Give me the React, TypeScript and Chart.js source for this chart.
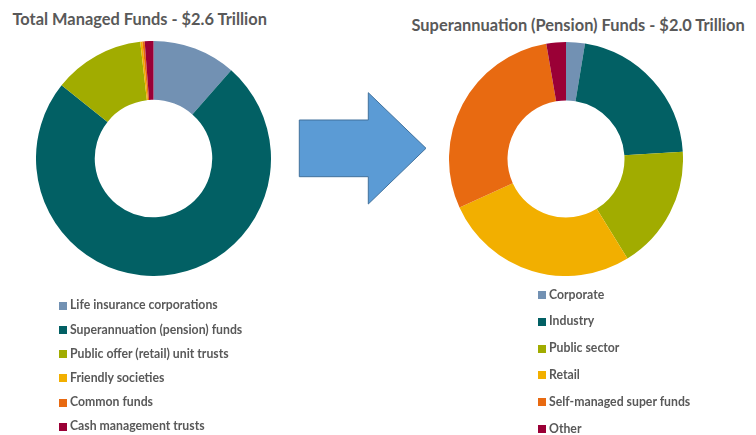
import React, { useEffect, useRef } from "react";
import { Chart, registerables } from "chart.js";

Chart.register(...registerables);

// ---- data ----
const leftTitle = "Total Managed Funds - $2.6 Trillion";
const leftLabels = [
  "Life insurance corporations",
  "Superannuation (pension) funds",
  "Public offer (retail) unit trusts",
  "Friendly societies",
  "Common funds",
  "Cash management trusts",
];
const leftValues = [11.5, 74.2, 12.5, 0.3, 0.3, 1.2];

const rightTitle = "Superannuation (Pension) Funds - $2.0 Trillion";
const rightLabels = [
  "Corporate",
  "Industry",
  "Public sector",
  "Retail",
  "Self-managed super funds",
  "Other",
];
const rightValues = [2.6, 21.4, 17.2, 27.0, 29.1, 2.7];

const palette = ["#7291B3", "#026064", "#A1AC00", "#F2AF00", "#E86A11", "#9A0036"];

const FONT = "Lato, 'Open Sans', sans-serif";
const TEXT = "#595959";

type DonutProps = {
  labels: string[];
  values: number[];
  colors: string[];
  cx: number;
  cy: number;
  r: number;
};

function Donut({ labels, values, colors, cx, cy, r }: DonutProps) {
  const ref = useRef<HTMLCanvasElement>(null);
  const size = Math.round(r * 2);
  useEffect(() => {
    const chart = new Chart(ref.current!, {
      type: "doughnut",
      data: {
        labels,
        datasets: [{ data: values, backgroundColor: colors, borderWidth: 0 }],
      },
      options: {
        responsive: false,
        animation: false,
        cutout: "50%",
        layout: { padding: 0 },
        plugins: { legend: { display: false }, tooltip: { enabled: false }, title: { display: false } },
      },
    });
    return () => chart.destroy();
  }, []);
  return (
    <canvas
      ref={ref}
      width={size}
      height={size}
      style={{ position: "absolute", left: cx - size / 2, top: cy - size / 2, width: size, height: size }}
    />
  );
}

function Legend({ labels, colors, x, y0, step }: { labels: string[]; colors: string[]; x: number; y0: number; step: number }) {
  return (
    <>
      {labels.map((l, i) => {
        const c = y0 + i * step;
        return (
          <React.Fragment key={l}>
            <div style={{ position: "absolute", left: x, top: c - 4, width: 8, height: 8, background: colors[i] }} />
            <div
              style={{
                position: "absolute",
                left: x + 11,
                top: c - 8.4,
                height: 16,
                lineHeight: "16px",
                fontFamily: FONT,
                fontWeight: 700,
                fontSize: 12.25,
                color: TEXT,
                whiteSpace: "nowrap",
              }}
            >
              {l}
            </div>
          </React.Fragment>
        );
      })}
    </>
  );
}

const titleStyle: React.CSSProperties = {
  position: "absolute",
  lineHeight: "20px",
  fontFamily: FONT,
  fontWeight: 700,
  fontSize: 16.4,
  color: TEXT,
  whiteSpace: "nowrap",
};

export default function App() {
  return (
    <div style={{ position: "fixed", left: 0, top: 0, width: 756, height: 435, background: "#fff", overflow: "hidden" }}>
      <div style={{ ...titleStyle, left: 12.5, top: 8.7 }}>{leftTitle}</div>
      <div style={{ ...titleStyle, left: 411.5, top: 15.4 }}>{rightTitle}</div>

      <Donut labels={leftLabels} values={leftValues} colors={palette} cx={153.8} cy={158.8} r={117.5} />
      <Donut labels={rightLabels} values={rightValues} colors={palette} cx={566} cy={158.8} r={117} />

      <svg style={{ position: "absolute", left: 0, top: 0 }} width={756} height={435}>
        <polygon
          points="299.3,120 368.3,120 368.3,92.7 426,148.3 368.3,204 368.3,176.7 299.3,176.7"
          fill="#5B9BD5"
          stroke="#41719C"
          strokeWidth={1}
        />
      </svg>

      <Legend labels={leftLabels} colors={palette} x={59} y0={305.7} step={24.2} />
      <Legend labels={rightLabels} colors={palette} x={538} y0={295} step={26.8} />
    </div>
  );
}
